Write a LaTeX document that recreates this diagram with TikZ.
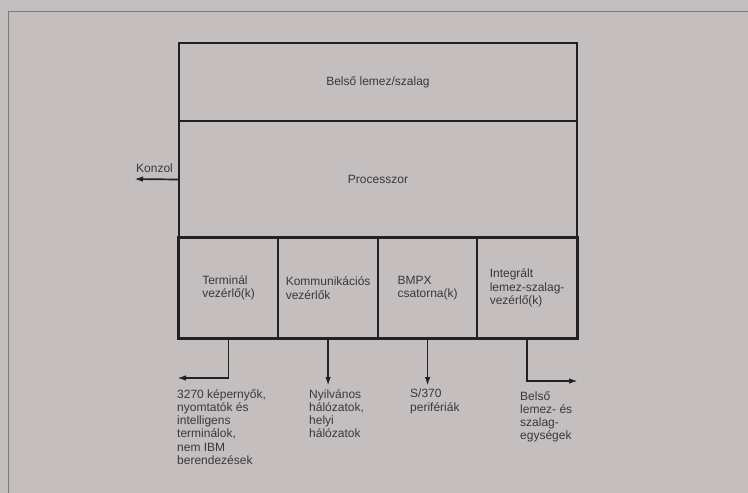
\documentclass[tikz,border=0pt]{standalone}
\usepackage{fontspec}
\setmainfont{Liberation Sans}
\usetikzlibrary{positioning, arrows.meta}

\definecolor{paper}{RGB}{196,191,190}
\definecolor{ink}{RGB}{36,32,34}
\definecolor{print}{RGB}{58,54,60}

\begin{document}
\begin{tikzpicture}[
    x=1pt, y=-1pt,
    box/.style={draw=ink, line width=2.4pt, minimum width=398pt, inner sep=0pt,
        font=\fontsize{12}{13.3}\selectfont, text=print},
    cell/.style={draw=ink, line width=1.8pt, minimum width=99.5pt, minimum height=100pt,
        inner sep=0pt, align=left, font=\fontsize{12}{13.3}\selectfont, text=print},
    lbl/.style={anchor=north west, inner sep=0pt, align=left,
        font=\fontsize{12}{13.3}\selectfont, text=print},
    outarrow/.style={-{Latex[length=9pt, width=5.5pt]}, line width=1.7pt, draw=ink}
]
\useasboundingbox (0,0) rectangle (748,493);
\fill[paper] (0,0) rectangle (748,493);
\draw[ink!60, line width=1pt] (8,493) -- (8,11) -- (748,11);

% === MAIN UNIT ===
\node[box, minimum height=78pt] (disk) at (378,82) {Belső lemez/szalag};
\node[box, minimum height=117pt] (cpu) at (378,179.5) {Processzor};

% === CONTROLLERS ===
\node[cell] (term) at (228.6,288) {Terminál\\vezérlő(k)};
\node[cell] (comm) at (328.1,288) {Kommunikációs\\vezérlők};
\node[cell] (bmpx) at (427.6,288) {BMPX\\csatorna(k)};
\node[cell] (integ) at (527.1,288) {Integrált\\lemez-szalag-\\vezérlő(k)};
\draw[ink, line width=2.4pt] (term.south west) rectangle (integ.north east);

% Console
\coordinate (konzolend) at (134,179);
\draw[outarrow] (cpu.west) -- (konzolend);
\node[lbl, anchor=south west] (konzol) at (136,173) {Konzol};

% === OUTPUTS ===
\coordinate (termend) at (177,378);
\coordinate (commend) at (328.1,386);
\coordinate (bmpxend) at (427.6,386);
\coordinate (integend) at (578,381);

\draw[outarrow] (term.south) |- (termend);
\draw[outarrow] (comm.south) -- (commend);
\draw[outarrow] (bmpx.south) -- (bmpxend);
\draw[outarrow] (integ.south) |- (integend);

\node[lbl] (termlbl) at (177,389) {3270 képernyők,\\nyomtatók és\\intelligens\\terminálok,\\nem IBM\\berendezések};
\node[lbl] (commlbl) at (309,389) {Nyilvános\\hálózatok,\\helyi\\hálózatok};
\node[lbl] (bmpxlbl) at (410,389) {S/370\\perifériák};
\node[lbl] (integlbl) at (520,391) {Belső\\lemez- és\\szalag-\\egységek};

\end{tikzpicture}
\end{document}
